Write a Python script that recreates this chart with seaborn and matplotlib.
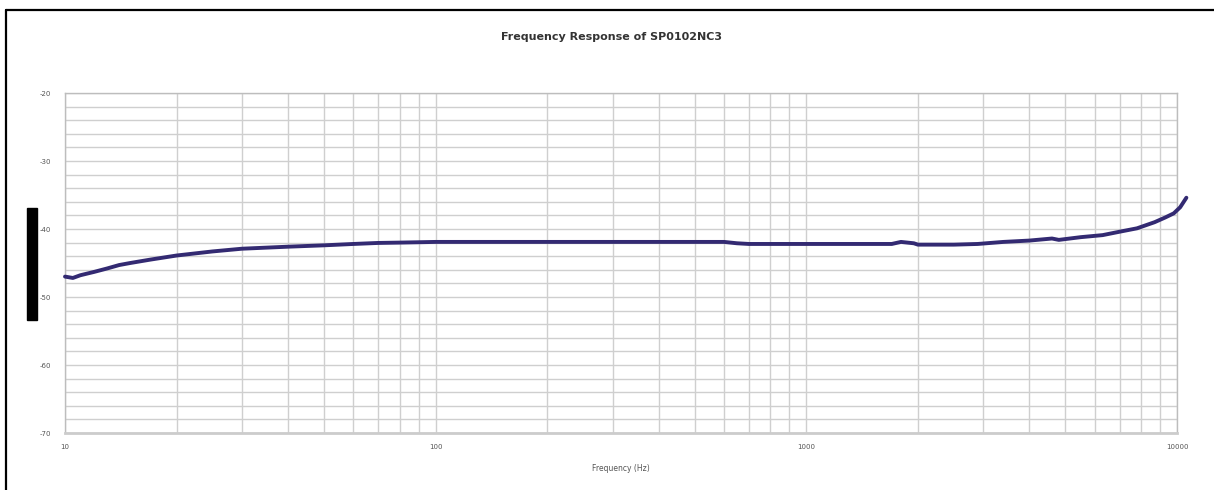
import numpy as np
import pandas as pd
import matplotlib
matplotlib.use("Agg")
import matplotlib.pyplot as plt
import seaborn as sns
from matplotlib.ticker import LogLocator, NullFormatter, FixedLocator, FixedFormatter, MultipleLocator
from matplotlib.patches import Rectangle
from matplotlib.lines import Line2D

freq_hz = [10, 10.5, 11, 12, 13, 14, 15, 17, 20, 25, 30, 40, 50, 60, 70, 80,
           100, 200, 400, 600, 650, 700, 1000, 1700, 1800, 1950, 2000, 2500,
           2900, 3400, 4000, 4600, 4800, 5500, 6300, 7000, 7800, 8700, 9300,
           9800, 10200, 10600]
response_db = [-47.0, -47.2, -46.8, -46.3, -45.8, -45.3, -45.0, -44.5, -43.9,
               -43.3, -42.9, -42.6, -42.4, -42.2, -42.05, -42.0, -41.9, -41.9,
               -41.9, -41.9, -42.1, -42.2, -42.2, -42.2, -41.9, -42.1, -42.3,
               -42.3, -42.2, -41.9, -41.7, -41.4, -41.6, -41.2, -40.9, -40.4,
               -39.9, -39.0, -38.3, -37.7, -36.8, -35.4]
x_ticks = [10, 100, 1000, 10000]
x_tick_labels = ["10", "100", "1000", "10000"]
y_ticks = [-20, -30, -40, -50, -60, -70]
y_tick_labels = ["-20", "-30", "-40", "-50", "-60", "-70"]

df = pd.DataFrame({"freq": freq_hz, "db": response_db})

sns.set_style("white")
plt.rcParams["font.family"] = ["DejaVu Sans"]

fig = plt.figure(figsize=(12.14, 4.90), dpi=100)
ax = fig.add_axes([65 / 1214, 1 - 433 / 490, (1177 - 65) / 1214, (433 - 93) / 490])

sns.lineplot(data=df, x="freq", y="db", ax=ax, color="#332a72", linewidth=2.8,
             clip_on=False, zorder=5)

ax.set_xscale("log")
ax.set_xlim(10, 10000)
ax.set_ylim(-70, -20)

ax.xaxis.set_major_locator(FixedLocator(x_ticks))
ax.xaxis.set_major_formatter(FixedFormatter(x_tick_labels))
ax.xaxis.set_minor_locator(LogLocator(base=10, subs=np.arange(2, 10)))
ax.xaxis.set_minor_formatter(NullFormatter())
ax.yaxis.set_major_locator(FixedLocator(y_ticks))
ax.yaxis.set_major_formatter(FixedFormatter(y_tick_labels))
ax.yaxis.set_minor_locator(MultipleLocator(2))

ax.grid(True, which="both", axis="both", color="#cfcfcf", linewidth=1.0)
ax.set_axisbelow(True)
for side, sp in ax.spines.items():
    sp.set_color("#bdbdbd")
    sp.set_linewidth(1.0)
ax.spines["bottom"].set_linewidth(2.0)
ax.spines["bottom"].set_color("#cccccc")

ax.tick_params(axis="both", which="both", length=0, labelsize=5, labelcolor="#555555")
ax.tick_params(axis="y", pad=10)
ax.tick_params(axis="x", pad=8)

ax.set_xlabel("Frequency (Hz)", fontsize=5.5, color="#555555", labelpad=10)
ax.set_ylabel("")
fig.suptitle("Frequency Response of SP0102NC3", x=611 / 1214, y=1 - 37 / 490,
             va="center", fontsize=8, fontweight="bold", color="#333333")

# black bar on the left
fig.patches.append(Rectangle((27 / 1214, 1 - 320 / 490), 10 / 1214, 112 / 490,
                             transform=fig.transFigure, color="black", zorder=10))
# outer frame (left and top)
fig.lines.append(Line2D([6 / 1214, 6 / 1214], [0, 1 - 10 / 490], transform=fig.transFigure,
                        color="black", linewidth=1.6))
fig.lines.append(Line2D([6 / 1214, 1], [1 - 10 / 490, 1 - 10 / 490], transform=fig.transFigure,
                        color="black", linewidth=1.6))

fig.savefig("out.png", dpi=100)
